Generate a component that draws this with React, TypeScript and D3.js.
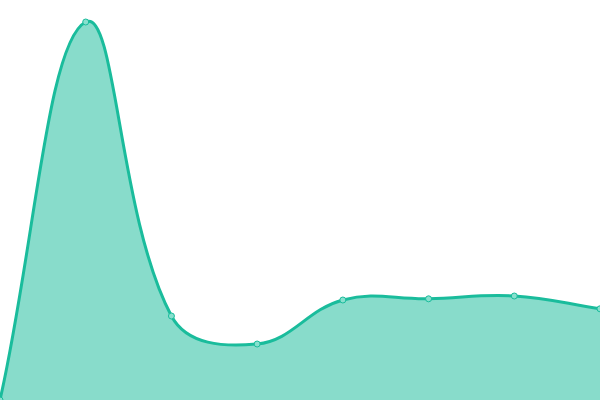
import React from 'react';
import * as d3 from 'd3';

// Series values (pixel height / 4 → 0..100 scale)
const categories = ['A', 'B', 'C', 'D', 'E', 'F', 'G', 'H'];
const values = [0, 94.5, 21, 14, 25, 25.3, 26, 22.8];

const WIDTH = 600;
const HEIGHT = 400;
const TENSION = 0.4;
const LINE = '#1abc9c';
const FILL = 'rgba(26,188,156,0.52)';

type Pt = [number, number];

// tension-based bezier spline (control points from neighbour distances)
function splinePath(p: Pt[], closeTo?: number) {
  const path = d3.path();
  const cps = p.map((cur, i) => {
    const prev = p[i - 1] ?? cur;
    const next = p[i + 1] ?? cur;
    const d01 = Math.hypot(cur[0] - prev[0], cur[1] - prev[1]);
    const d12 = Math.hypot(next[0] - cur[0], next[1] - cur[1]);
    const s = d01 + d12 || 1;
    const fa = (TENSION * d01) / s;
    const fb = (TENSION * d12) / s;
    const dx = next[0] - prev[0];
    const dy = next[1] - prev[1];
    return {
      before: [cur[0] - fa * dx, cur[1] - fa * dy] as Pt,
      after: [cur[0] + fb * dx, cur[1] + fb * dy] as Pt,
    };
  });
  path.moveTo(p[0][0], p[0][1]);
  for (let i = 1; i < p.length; i++) {
    const a = cps[i - 1].after;
    const b = cps[i].before;
    path.bezierCurveTo(a[0], a[1], b[0], b[1], p[i][0], p[i][1]);
  }
  if (closeTo !== undefined) {
    path.lineTo(p[p.length - 1][0], closeTo);
    path.lineTo(p[0][0], closeTo);
    path.closePath();
  }
  return path.toString();
}

export default function App() {
  const x = d3.scalePoint<string>().domain(categories).range([0, WIDTH]);
  const y = d3.scaleLinear().domain([0, 100]).range([HEIGHT, 0]);

  const pts: Pt[] = categories.map((c, i) => [x(c) ?? 0, y(values[i])]);

  return (
    <div style={{ position: 'fixed', left: 0, top: 0, width: WIDTH, height: HEIGHT, background: '#fff' }}>
      <svg width={WIDTH} height={HEIGHT} style={{ display: 'block' }}>
        <path d={splinePath(pts, y(0))} fill={FILL} />
        <path d={splinePath(pts)} fill="none" stroke={LINE} strokeWidth={3} />
        {pts.map((d, i) => (
          <circle
            key={categories[i]}
            cx={d[0]}
            cy={d[1]}
            r={3}
            fill="#88e0ce"
            stroke={LINE}
            strokeWidth={1}
          />
        ))}
      </svg>
    </div>
  );
}
